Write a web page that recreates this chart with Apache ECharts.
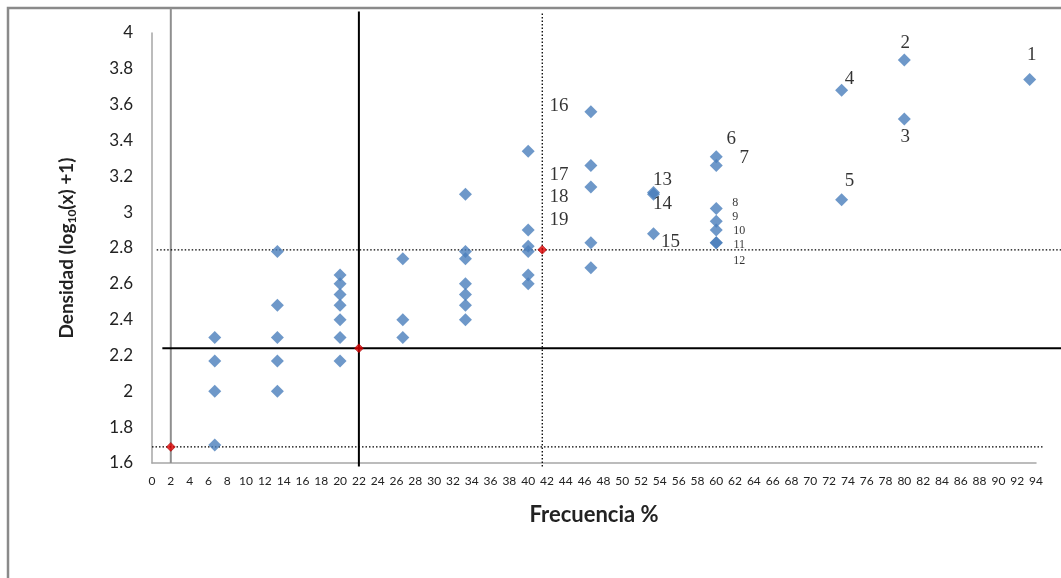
<!DOCTYPE html>
<html>
<head>
<meta charset="utf-8">
<title>Densidad vs Frecuencia</title>
<script src="https://cdn.jsdelivr.net/npm/echarts@6/dist/echarts.min.js"></script>
<style>
  html, body { margin: 0; padding: 0; background: #fff; }
  #chart { width: 1061px; height: 578px; }
</style>
</head>
<body>
<div id="chart"></div>
<script>
// Estaciones numeradas: [frecuencia %, densidad log10(x)+1, número]
const estacionesNumeradas = [
  [93.33, 3.74, 1],
  [80, 3.85, 2],
  [80, 3.52, 3],
  [73.33, 3.68, 4],
  [73.33, 3.07, 5],
  [60, 3.31, 6],
  [60, 3.26, 7],
  [60, 3.02, 8],
  [60, 2.95, 9],
  [60, 2.9, 10],
  [60, 2.83, 11],
  [60, 2.83, 12],
  [53.33, 3.11, 13],
  [53.33, 3.1, 14],
  [53.33, 2.88, 15],
  [46.67, 3.56, 16],
  [46.67, 3.26, 17],
  [46.67, 3.14, 18],
  [46.67, 2.83, 19]
];

// Resto de estaciones: [frecuencia %, densidad]
const otrasEstaciones = [
  [6.67, 2.3], [6.67, 2.17], [6.67, 2.0], [6.67, 1.7],
  [13.33, 2.78], [13.33, 2.48], [13.33, 2.3], [13.33, 2.17], [13.33, 2.0],
  [20, 2.65], [20, 2.6], [20, 2.54], [20, 2.48], [20, 2.4], [20, 2.3], [20, 2.17],
  [26.67, 2.74], [26.67, 2.4], [26.67, 2.3],
  [33.33, 3.1], [33.33, 2.78], [33.33, 2.74], [33.33, 2.6], [33.33, 2.54], [33.33, 2.48], [33.33, 2.4],
  [40, 3.34], [40, 2.9], [40, 2.81], [40, 2.78], [40, 2.65], [40, 2.6],
  [46.67, 2.69]
];

// Puntos de corte (frecuencia %, densidad)
const puntosCorte = [
  [2, 1.69],
  [22, 2.24],
  [41.5, 2.79]
];

// Escalas de los ejes
const ejeX = { min: 0, max: 94, paso: 2 };
const ejeY = { min: 1.6, max: 4, paso: 0.2 };

// Estilo y alcance de las guías que cruzan cada punto de corte
const punteado = [1.5, 2];
const guias = [
  { // corte 1
    vertical:   { desde: 1.6, hasta: 4.14, color: '#8f8f8f', width: 2, dash: null },
    horizontal: { desde: 0, hasta: 94.9, color: '#000', width: 1.3, dash: punteado }
  },
  { // corte 2
    vertical:   { desde: 1.58, hasta: 4.12, color: '#000', width: 2, dash: null },
    horizontal: { desde: 1.1, hasta: 100, color: '#000', width: 2, dash: null }
  },
  { // corte 3
    vertical:   { desde: 1.58, hasta: 4.12, color: '#000', width: 1.3, dash: punteado },
    horizontal: { desde: 0.5, hasta: 100, color: '#000', width: 1.3, dash: punteado }
  }
];

// Desplazamiento (px) de cada número respecto a su marca
const desplazamientoEtiqueta = {
  1: [2, -25], 2: [1, -17], 3: [1, 18], 4: [8, -11], 5: [8, -19],
  6: [15, -18], 7: [28, -8], 8: [19, -6], 9: [19, -4], 10: [23, 1],
  11: [23, 2], 12: [23, 18], 13: [9, -12], 14: [9, 10], 15: [17, 8],
  16: [-32, -6], 17: [-32, 9], 18: [-32, 10], 19: [-32, -23]
};
const numerosPequenos = new Set([8, 9, 10, 11, 12]);

const azul = '#4a7ebb';

const series = [
  {
    type: 'scatter', symbol: 'diamond', symbolSize: 13, z: 3,
    itemStyle: { color: azul },
    data: otrasEstaciones
  },
  {
    type: 'scatter', symbol: 'diamond', symbolSize: 13, z: 3,
    itemStyle: { color: azul },
    data: estacionesNumeradas.map(function (e) {
      const n = e[2];
      return {
        value: [e[0], e[1]],
        label: {
          show: true,
          position: 'inside',
          offset: desplazamientoEtiqueta[n],
          formatter: String(n),
          color: '#000',
          fontFamily: 'Liberation Serif',
          fontSize: numerosPequenos.has(n) ? 12 : 19
        }
      };
    })
  },
  {
    type: 'scatter', symbol: 'diamond', symbolSize: 9, z: 4,
    itemStyle: { color: '#e00000', borderColor: '#900000', borderWidth: 0.6 },
    data: puntosCorte
  }
];

const marco = {
  type: 'rect',
  shape: { x: 8, y: 8, width: 1200, height: 700 },
  style: { fill: 'none', stroke: '#8a8a8a', lineWidth: 2.5 },
  silent: true
};

const chart = echarts.init(document.getElementById('chart'), null, { renderer: 'canvas' });

chart.setOption({
  backgroundColor: '#fff',
  animation: false,
  graphic: [marco],
  grid: { left: 152, right: 25, top: 33, bottom: 115 },
  xAxis: {
    type: 'value',
    min: ejeX.min, max: ejeX.max, interval: ejeX.paso,
    name: 'Frecuencia %',
    nameLocation: 'middle',
    nameGap: 41,
    nameTextStyle: {
      fontFamily: 'Lato', fontWeight: 'bold', fontSize: 22, color: '#222'
    },
    axisLine: { show: true, onZero: false, lineStyle: { color: '#a6a6a6', width: 1.5 } },
    axisTick: { show: false },
    splitLine: { show: false },
    axisLabel: { fontFamily: 'Lato', fontSize: 12, color: '#222', margin: 12 }
  },
  yAxis: {
    type: 'value',
    min: ejeY.min, max: ejeY.max, interval: ejeY.paso,
    name: '{t|Densidad (log}{s|10}{t|(x) +1)}',
    nameLocation: 'middle',
    nameRotate: 90,
    nameGap: 74,
    nameTextStyle: {
      rich: {
        t: { fontFamily: 'Lato', fontWeight: 'bold', fontSize: 19, color: '#222', lineHeight: 23 },
        s: { fontFamily: 'Lato', fontWeight: 'bold', fontSize: 12, color: '#222', lineHeight: 12, verticalAlign: 'bottom' }
      }
    },
    axisLine: { show: true, onZero: false, lineStyle: { color: '#a6a6a6', width: 1.5 } },
    axisTick: { show: false },
    splitLine: { show: false },
    axisLabel: { fontFamily: 'Lato', fontSize: 17, color: '#222', margin: 19 }
  },
  series: series
});

// Guías: se pasan a píxeles con las escalas de la propia cuadrícula,
// así pueden salirse del área de trazado como en el gráfico original.
function aPixel(x, y) {
  return chart.convertToPixel({ gridIndex: 0 }, [x, y]);
}
function linea(a, b, g) {
  return {
    type: 'line', silent: true, z: 1,
    shape: { x1: a[0], y1: a[1], x2: b[0], y2: b[1] },
    style: { stroke: g.color, lineWidth: g.width, lineDash: g.dash || null }
  };
}
const lineasGuia = [marco];
puntosCorte.forEach(function (p, i) {
  const g = guias[i];
  lineasGuia.push(linea(aPixel(p[0], g.vertical.desde), aPixel(p[0], g.vertical.hasta), g.vertical));
  lineasGuia.push(linea(aPixel(g.horizontal.desde, p[1]), aPixel(g.horizontal.hasta, p[1]), g.horizontal));
});
chart.setOption({ graphic: lineasGuia }, { replaceMerge: ['graphic'] });
</script>
</body>
</html>
